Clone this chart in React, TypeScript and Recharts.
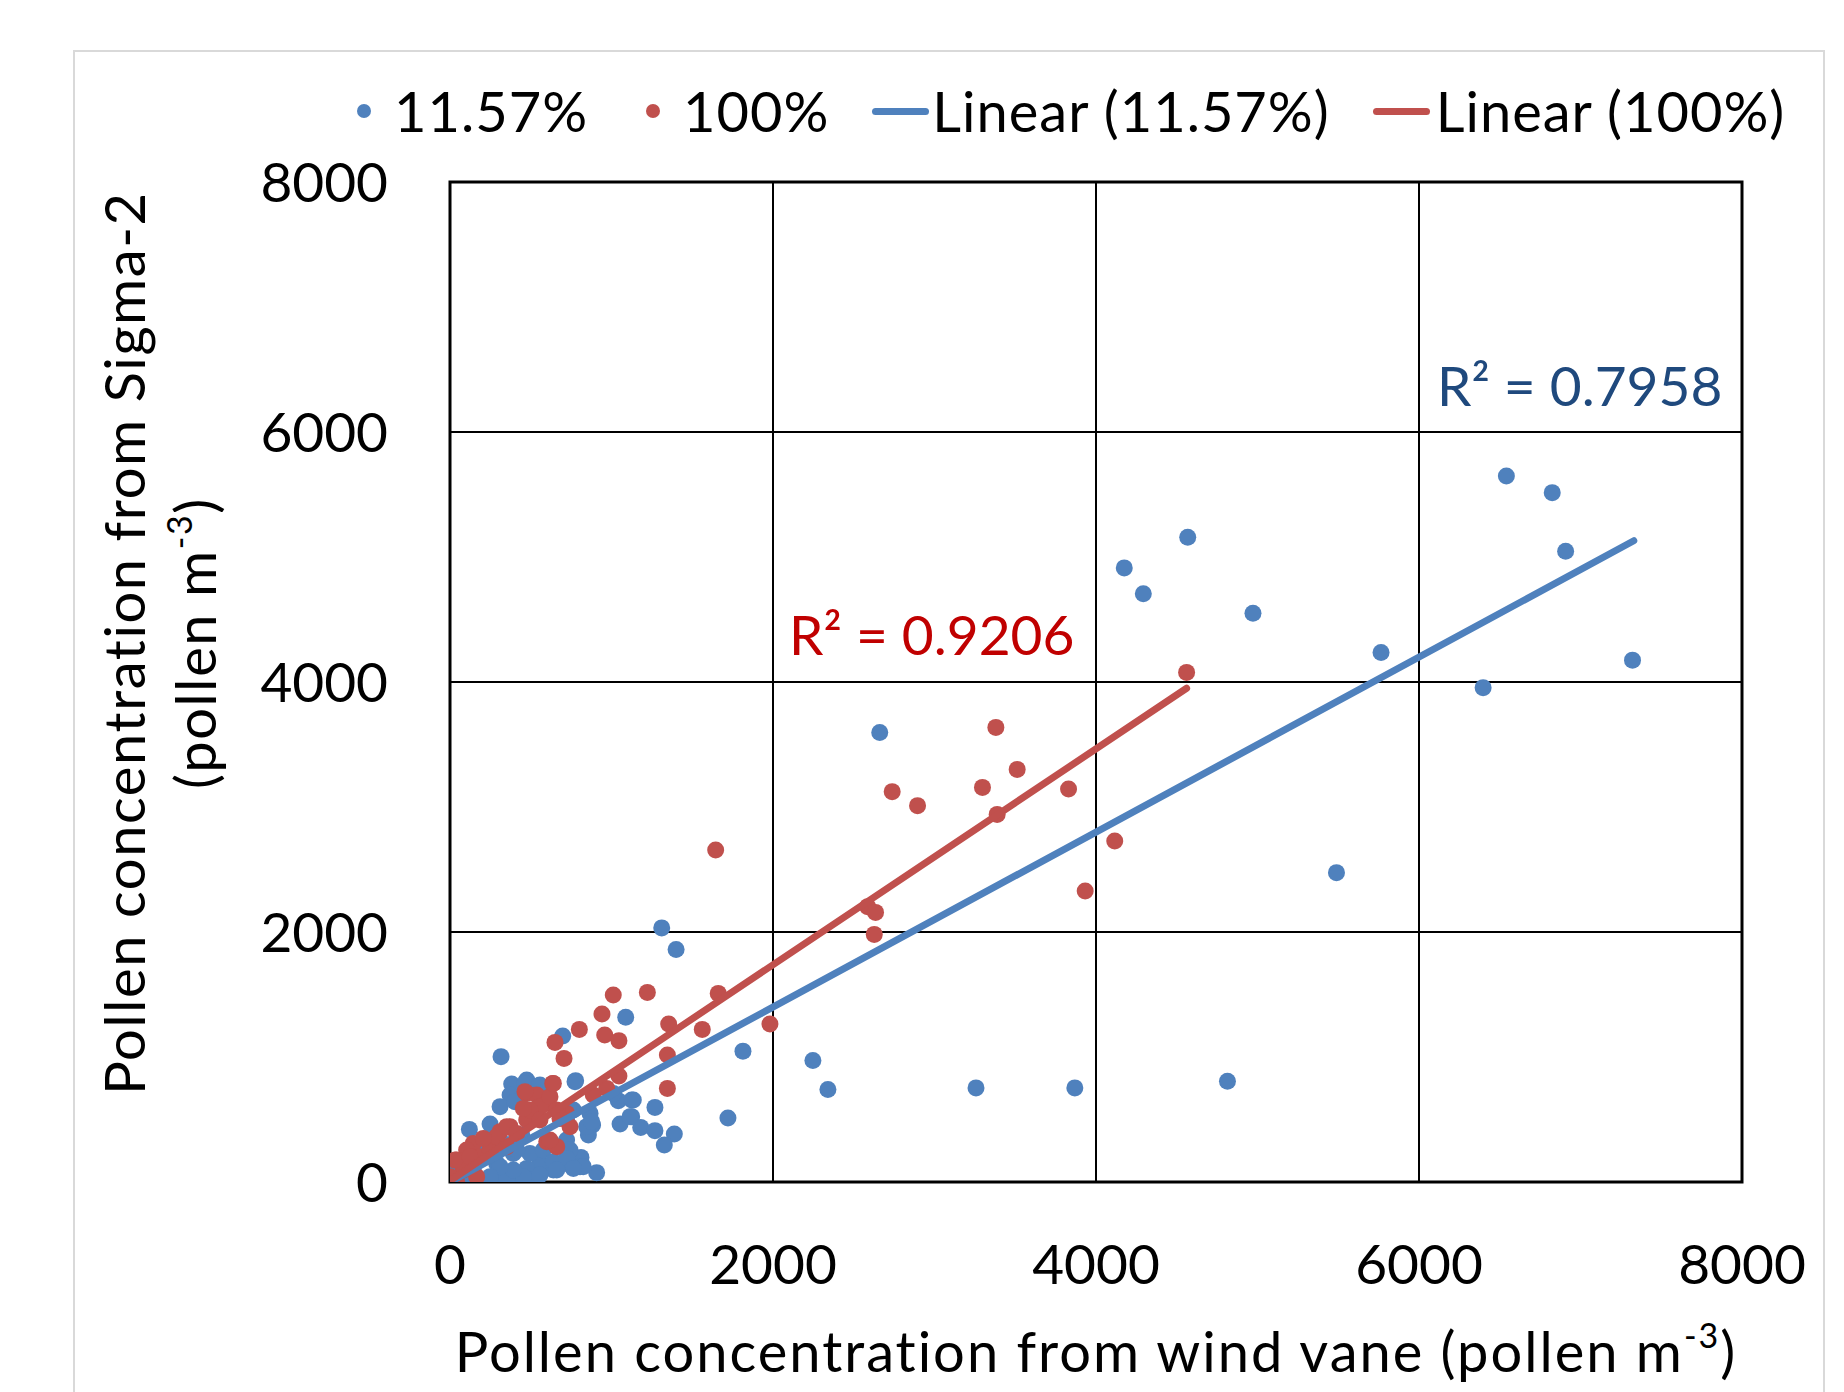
import React from 'react'
import { ScatterChart, Scatter, XAxis, YAxis, CartesianGrid, ReferenceArea, ReferenceDot } from 'recharts'

const BLUE = '#4F81BD'
const RED = '#C0504D'
const FONT = 'Lato, "Open Sans", sans-serif'

const xTicks = [0, 2000, 4000, 6000, 8000]
const yTicks = [0, 2000, 4000, 6000, 8000]

// 11.57% series: [wind vane, Sigma-2]
const blue1157: [number, number][] = [
  [6541, 5648], [6825, 5515], [6908, 5046], [7322, 4175], [6397, 3955], [5765, 4236],
  [4972, 4550], [4568, 5158], [4175, 4913], [4293, 4706], [5489, 2475], [4814, 806],
  [3869, 753], [3257, 753], [2661, 3596], [2340, 740], [2247, 972], [1814, 1047],
  [1721, 512], [1311, 2033], [1400, 1860], [1088, 1318], [698, 1168], [316, 1003],
  [778, 811], [475, 816], [382, 784], [547, 768], [372, 696], [310, 603],
  [1042, 651], [1125, 656], [1269, 597], [867, 549], [883, 456], [1053, 464],
  [1125, 523], [1181, 437], [1269, 411], [1389, 384], [1327, 296], [857, 376],
  [120, 421], [248, 464], [908, 75], [811, 197], [805, 123], [722, 149],
  [640, 96], [557, 149], [475, 109], [433, 16], [351, 0], [495, 229],
  [392, 229], [289, 149], [206, 229], [144, 96], [20, 149], [124, 0],
  [722, 336], [743, 256], [661, 283], [578, 256], [413, 363], [330, 309],
  [495, 0], [268, 43], [83, 43], [464, 789], [557, 776], [774, 803],
  [402, 643], [227, 349], [444, 376], [413, 256], [640, 163], [722, 189],
  [825, 123], [764, 109], [661, 96], [557, 56], [454, 43], [351, 29],
  [392, 96], [310, 123], [248, 43], [165, 16], [103, 16], [846, 443],
  [877, 483], [1115, 523], [1135, 656], [1011, 709], [722, 496], [764, 576],
]

// 100% series
const red100: [number, number][] = [
  [4561, 4077], [3380, 3637], [3512, 3301], [3297, 3157], [3830, 3144], [2738, 3123],
  [2895, 3011], [3388, 2941], [4116, 2728], [3933, 2328], [1645, 2656], [2586, 2203],
  [2635, 2157], [2627, 1981], [1661, 1509], [1981, 1264], [1562, 1221], [1354, 1264],
  [1346, 1016], [1346, 749], [1222, 1517], [1011, 1496], [941, 1344], [801, 1221],
  [958, 1176], [1046, 1131], [650, 1117], [706, 989], [1046, 848], [970, 749],
  [887, 696], [636, 789], [475, 709], [537, 696], [599, 629], [743, 443],
  [722, 549], [599, 323], [661, 283], [475, 496], [372, 443], [310, 403],
  [144, 309], [103, 256], [41, 176], [186, 203], [83, 96], [20, 16],
  [165, 43], [248, 256], [289, 363], [557, 603], [681, 509], [495, 576],
  [464, 723], [619, 683], [640, 789], [454, 589], [661, 576], [619, 336],
  [351, 443], [206, 349], [31, 176], [124, 203], [0, 43], [41, 3],
  [351, 283], [557, 496], [413, 389],
]

// linear trendlines (end points)
const blueTrend: [number, number][] = [[20, 14], [7330, 5130]]
const redTrend: [number, number][] = [[0, 10], [4561, 3950]]

const r2Labels = [
  { x: 2099, y: 4216, text: 'R² = 0.9206', color: '#C00000' },
  { x: 6111, y: 6208, text: 'R² = 0.7958', color: '#1F497D' },
]

const toPts = (arr: [number, number][]) => arr.map(([x, y]) => ({ x, y }))

const dot = (color: string) => (p: any) => <circle cx={p.cx} cy={p.cy} r={8.5} fill={color} />

const tickStyle = { fill: '#000', fontSize: 55, fontFamily: FONT }

const LegendBar = () => {
  const item = { display: 'flex', alignItems: 'center' } as const
  const circ = (c: string) => (
    <span style={{ width: 14, height: 14, borderRadius: '50%', background: c, marginRight: 23, display: 'inline-block' }} />
  )
  const bar = (c: string, mr: number) => (
    <span style={{ width: 57, height: 7, borderRadius: 3.5, background: c, marginRight: mr, display: 'inline-block' }} />
  )
  return (
    <div style={{ position: 'absolute', left: 357, top: 83, display: 'flex', alignItems: 'center', fontFamily: FONT, fontSize: 56, letterSpacing: 1, lineHeight: '56px', color: '#000', whiteSpace: 'nowrap' }}>
      <div style={{ ...item, marginRight: 58 }}>{circ(BLUE)}11.57%</div>
      <div style={{ ...item, marginRight: 43 }}>{circ(RED)}100%</div>
      <div style={{ ...item, marginRight: 43 }}>{bar(BLUE, 3)}Linear (11.57%)</div>
      <div style={item}>{bar(RED, 6)}Linear (100%)</div>
    </div>
  )
}

const Titles = () => (
  <svg width={1844} height={1392} style={{ position: 'absolute', left: 0, top: 0, pointerEvents: 'none' }}>
    <g fontFamily={FONT} fontSize={56} fill="#000">
      <text x={1096} y={1372} textAnchor="middle" letterSpacing={2}>
        Pollen concentration from wind vane (pollen m<tspan fontSize={34} dy={-24}>-3</tspan><tspan dy={24}>)</tspan>
      </text>
      <text x={145} y={643} textAnchor="middle" letterSpacing={1.6} transform="rotate(-90 145 643)">
        Pollen concentration from Sigma-2
      </text>
      <text x={216} y={643} textAnchor="middle" letterSpacing={1.6} transform="rotate(-90 216 643)">
        (pollen m<tspan fontSize={34} dy={-24}>-3</tspan><tspan dy={24}>)</tspan>
      </text>
    </g>
  </svg>
)

export default function App() {
  return (
    <div style={{ position: 'absolute', left: 0, top: 0, width: 1844, height: 1392, overflow: 'hidden', background: '#fff' }}>
      <div style={{ position: 'absolute', left: 73, top: 50, width: 1748, height: 1400, border: '2px solid #D9D9D9' }} />
      <ScatterChart width={1844} height={1392} margin={{ top: 182, right: 102, bottom: 110, left: 330 }}>
        <CartesianGrid stroke="#000" strokeWidth={2} strokeOpacity={1} />
        <XAxis
          type="number"
          dataKey="x"
          domain={[0, 8000]}
          ticks={xTicks}
          height={100}
          axisLine={false}
          tickLine={false}
          tickSize={6}
          tickMargin={57}
          tick={tickStyle}
          allowDataOverflow
        />
        <YAxis
          type="number"
          dataKey="y"
          domain={[0, 8000]}
          ticks={yTicks}
          width={120}
          axisLine={false}
          tickLine={false}
          tickSize={6}
          tickMargin={56}
          tick={tickStyle}
          allowDataOverflow
        />
        <ReferenceArea x1={0} x2={8000} y1={0} y2={8000} fill="none" fillOpacity={0} stroke="#000" strokeWidth={3} strokeOpacity={1} />
        <Scatter data={toPts(blue1157)} shape={dot(BLUE)} isAnimationActive={false} />
        <Scatter data={toPts(red100)} shape={dot(RED)} isAnimationActive={false} />
        <Scatter
          data={toPts(blueTrend)}
          line={{ stroke: BLUE, strokeWidth: 7, strokeLinecap: 'round' }}
          shape={() => <g />}
          isAnimationActive={false}
        />
        <Scatter
          data={toPts(redTrend)}
          line={{ stroke: RED, strokeWidth: 7, strokeLinecap: 'round' }}
          shape={() => <g />}
          isAnimationActive={false}
        />
        {r2Labels.map((l) => (
          <ReferenceDot
            key={l.text}
            x={l.x}
            y={l.y}
            r={0}
            ifOverflow="visible"
            shape={(p: any) => (
              <text x={p.cx} y={p.cy} fill={l.color} fontSize={55} fontFamily={FONT}>
                {l.text}
              </text>
            )}
          />
        ))}
      </ScatterChart>
      <LegendBar />
      <Titles />
    </div>
  )
}
